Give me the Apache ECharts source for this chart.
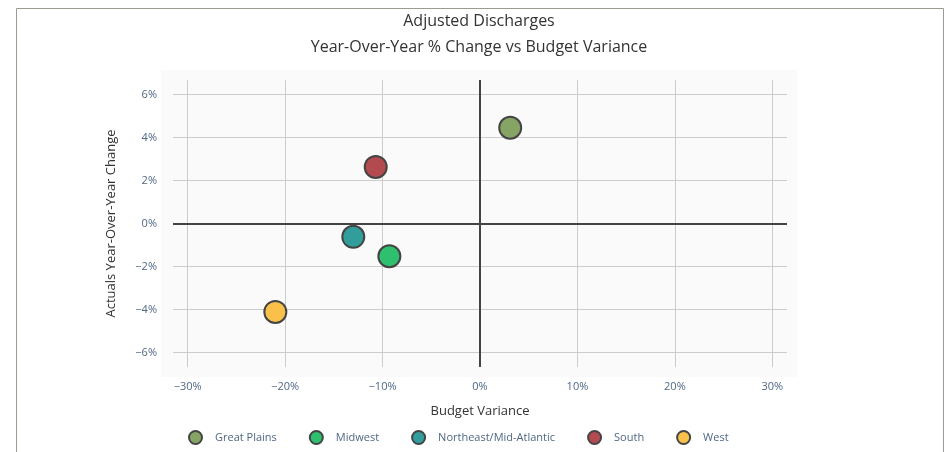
<!DOCTYPE html>
<html>
<head>
<meta charset="utf-8">
<script src="https://cdn.jsdelivr.net/npm/echarts@6/dist/echarts.min.js"></script>
<style>
html,body{margin:0;padding:0;background:#fff;}
#chart{width:949px;height:452px;}
</style>
</head>
<body>
<div id="chart"></div>
<script>
var regions = ['Great Plains', 'Midwest', 'Northeast/Mid-Atlantic', 'South', 'West'];
var budgetVariance = [3.1, -9.3, -13.0, -10.7, -21.0];
var yoyChange = [4.45, -1.52, -0.62, 2.63, -4.11];
var colors = ['#86a464', '#2fc06f', '#319e9b', '#b34a50', '#f9c14a'];
var xTicks = [-30, -20, -10, 0, 10, 20, 30];
var yTicks = [-6, -4, -2, 0, 2, 4, 6];

var fmt = function (v) { return (v < 0 ? '\u2212' : '') + Math.abs(v) + '%'; };
var FONT = '"Open Sans", "Noto Sans", sans-serif';

var series = regions.map(function (name, i) {
  var s = {
    name: name,
    type: 'scatter',
    symbol: 'circle',
    symbolSize: 22,
    itemStyle: { color: colors[i], borderColor: '#444', borderWidth: 2, opacity: 1 },
    data: [[budgetVariance[i], yoyChange[i]]],
    z: 5
  };
  if (i === 0) {
    s.markLine = {
      silent: true,
      symbol: 'none',
      label: { show: false },
      lineStyle: { color: '#444', width: 2, type: 'solid' },
      emphasis: { disabled: true },
      data: [{ xAxis: 0 }, { yAxis: 0 }],
      z: 3
    };
  }
  return s;
});

var chart = echarts.init(document.getElementById('chart'));
chart.setOption({
  animation: false,
  backgroundColor: '#fff',
  textStyle: { fontFamily: FONT },
  graphic: [
    { type: 'rect', z: -10, silent: true, shape: { x: 16.5, y: 8.5, width: 927, height: 460 },
      style: { fill: '#fff', stroke: '#9a9c92', lineWidth: 1 } },
    { type: 'rect', z: -5, silent: true, shape: { x: 161, y: 70, width: 636, height: 307 },
      style: { fill: '#fafafa' } }
  ],
  title: {
    text: 'Adjusted Discharges\nYear-Over-Year % Change vs Budget Variance',
    left: 474, top: 3, textAlign: 'center',
    textStyle: { fontFamily: FONT, fontSize: 16, fontWeight: 'normal', color: '#333', lineHeight: 26 }
  },
  legend: {
    data: regions,
    bottom: 2,
    left: 183,
    icon: 'circle',
    itemWidth: 13,
    itemHeight: 13,
    itemGap: 32,
    textStyle: { fontFamily: FONT, fontSize: 11, color: '#506784', padding: [0, 0, 0, 8] }
  },
  grid: { left: 173, right: 162, top: 80, bottom: 85, containLabel: false },
  xAxis: {
    type: 'value', min: -31.5, max: 31.5,
    name: 'Budget Variance', nameLocation: 'middle', nameGap: 38,
    nameTextStyle: { fontFamily: FONT, fontSize: 13, color: '#333' },
    axisLine: { show: false },
    axisTick: { show: false, customValues: xTicks },
    axisLabel: { customValues: xTicks, formatter: fmt, margin: 14, fontSize: 11, color: '#506784', fontFamily: FONT },
    splitLine: { show: true, lineStyle: { color: '#cccccc', width: 1 } }
  },
  yAxis: {
    type: 'value', min: -6.67, max: 6.67,
    name: 'Actuals Year-Over-Year Change', nameLocation: 'middle', nameGap: 55,
    nameTextStyle: { fontFamily: FONT, fontSize: 13, color: '#333' },
    axisLine: { show: false },
    axisTick: { show: false, customValues: yTicks },
    axisLabel: { customValues: yTicks, formatter: fmt, margin: 16, fontSize: 11, color: '#506784', fontFamily: FONT },
    splitLine: { show: true, lineStyle: { color: '#cccccc', width: 1 } }
  },
  series: series
});
</script>
</body>
</html>
